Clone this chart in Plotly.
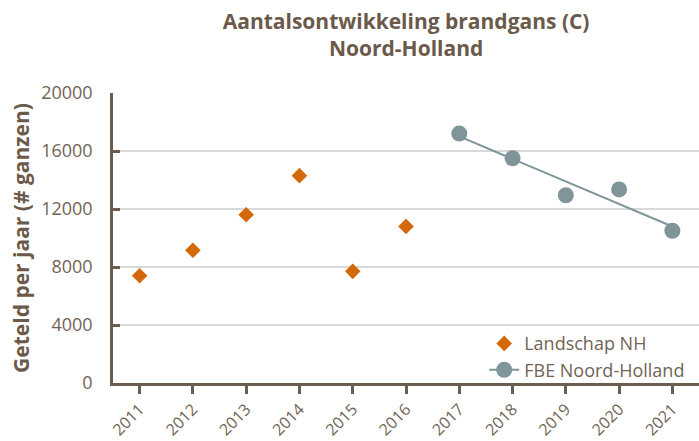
import numpy as np
import plotly.graph_objects as go

years_lnh = [2011, 2012, 2013, 2014, 2015, 2016]
vals_lnh = [7400, 9150, 11600, 14300, 7700, 10800]
years_fbe = [2017, 2018, 2019, 2020, 2021]
vals_fbe = [17200, 15500, 12950, 13350, 10500]
x_ticks = list(range(2011, 2022))
y_ticks = [0, 4000, 8000, 12000, 16000, 20000]

txt = "#716455"
axis_col = "#6b5d4f"
title_col = "#6b5a4a"
orange = "#D4690B"
grey = "#7F959A"

slope, icpt = np.polyfit(years_fbe, vals_fbe, 1)
trend_x = [years_fbe[0], years_fbe[-1]]
trend_y = [slope * x + icpt for x in trend_x]

fig = go.Figure()
fig.add_trace(go.Scatter(x=years_lnh, y=vals_lnh, mode="markers", name="Landschap NH",
                         marker=dict(symbol="diamond", size=12, color=orange)))
fig.add_trace(go.Scatter(x=trend_x, y=trend_y, mode="lines", showlegend=False,
                         line=dict(color=grey, width=2), hoverinfo="skip"))
fig.add_trace(go.Scatter(x=years_fbe, y=vals_fbe, mode="markers", showlegend=False,
                         marker=dict(symbol="circle", size=16, color=grey)))
fig.add_trace(go.Scatter(x=[None], y=[None], mode="lines+markers", name="FBE Noord-Holland",
                         marker=dict(symbol="circle", size=16, color=grey),
                         line=dict(color=grey, width=2)))

fig.update_layout(
    width=699, height=441,
    margin=dict(l=113, r=0, t=93, b=58, autoexpand=False),
    paper_bgcolor="white", plot_bgcolor="white",
    font=dict(family="Open Sans", color=txt, size=18),
    title=dict(text="<b>Aantalsontwikkeling brandgans (C)<br>Noord-Holland</b>",
               x=0.581, xanchor="center", y=0.935, yanchor="top",
               font=dict(size=21, color=title_col)),
    showlegend=True,
    legend=dict(x=0.985, xanchor="right", y=-0.018, yanchor="bottom",
                bgcolor="rgba(0,0,0,0)", font=dict(size=18, color=txt),
                tracegroupgap=0, itemwidth=30),
    xaxis=dict(range=[2010.5, 2021.5], tickmode="array", tickvals=x_ticks,
               ticktext=[str(v) for v in x_ticks], tickangle=-45, automargin=False,
               showgrid=False, zeroline=False, showline=True, linecolor=axis_col,
               linewidth=2.5, ticks="outside", ticklen=8, tickwidth=2.5,
               tickcolor=axis_col, tickfont=dict(size=16, color=txt)),
    yaxis=dict(range=[0, 20000], tickmode="array", tickvals=y_ticks,
               ticktext=[str(v) for v in y_ticks], automargin=False,
               showgrid=True, gridcolor="#d9d9d9", gridwidth=1.5, zeroline=False,
               showline=True, linecolor=axis_col, linewidth=2.5,
               ticks="inside", ticklen=7, tickwidth=2.5, tickcolor=axis_col,
               ticklabelstandoff=14,
               tickfont=dict(size=18, color=txt),
               title=dict(text="<b>Geteld per jaar (# ganzen)</b>",
                          font=dict(size=21, color=title_col), standoff=6)),
)

fig.write_html("out.html", config={"displayModeBar": False},
               post_script="document.body.style.margin='0';document.body.style.padding='0';")
